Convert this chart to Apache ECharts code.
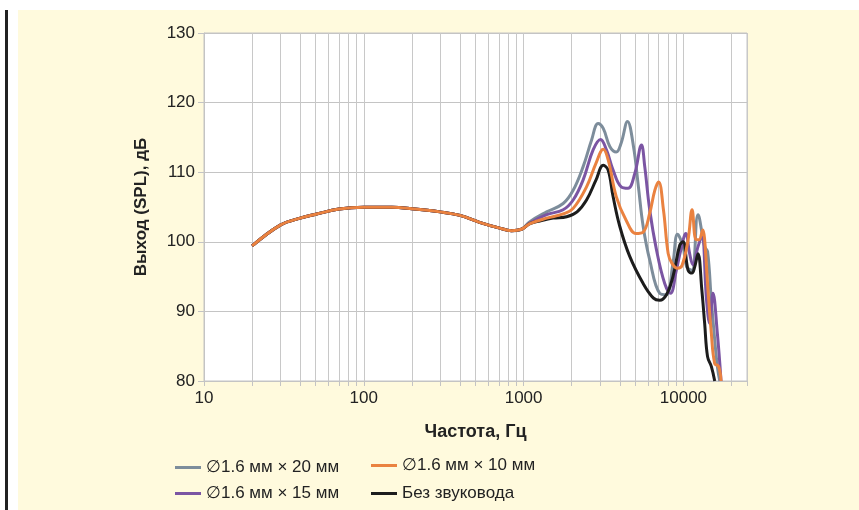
<!DOCTYPE html>
<html><head><meta charset="utf-8">
<script src="https://cdn.jsdelivr.net/npm/echarts@6/dist/echarts.min.js"></script>
<style>html,body{margin:0;padding:0;background:#fff}#c{width:859px;height:510px}</style>
</head><body><div id="c"></div>
<script>
// Shared low-frequency part (all curves coincide)
const freqCommon = [20, 30, 40, 50, 70, 100, 150, 200, 300, 400, 530, 700, 840, 970];
const splCommon  = [99.4, 102.4, 103.4, 103.95, 104.7, 104.95, 104.95, 104.75, 104.3, 103.8, 102.8, 102.0, 101.6, 101.8];

const freq20 = [1095, 1393, 1768, 2042, 2358, 2661, 2926, 3150, 3462, 3800, 4080, 4467, 4870, 5230, 5600, 6152, 7112, 7830, 8600, 9190, 9950, 10480, 11300, 12340, 13580, 14160, 14950, 15700, 16300, 16870];
const spl20  = [102.9, 104.3, 105.5, 107.4, 110.8, 114.6, 117.0, 116.3, 113.7, 112.9, 114.2, 117.3, 113.7, 107.9, 102.2, 97.4, 92.6, 92.4, 96.9, 101.1, 99.3, 96.4, 95.9, 103.9, 99.3, 98.6, 91.6, 85.9, 82.1, 80.0];

const freq15 = [1095, 1393, 1768, 2042, 2358, 2722, 3030, 3300, 3630, 4080, 4500, 4960, 5465, 5730, 6152, 6790, 7638, 8300, 9030, 9630, 10350, 10940, 11460, 12340, 13040, 13960, 14590, 15310, 16300, 17200];
const spl15  = [102.7, 103.9, 104.6, 106.0, 108.9, 113.2, 114.7, 113.2, 110.3, 107.9, 107.7, 109.8, 113.9, 110.8, 104.6, 98.8, 94.0, 92.6, 95.9, 98.8, 101.2, 98.3, 96.7, 99.3, 100.8, 91.6, 88.3, 92.6, 86.9, 80.0];

const freq10 = [1095, 1393, 1768, 2042, 2476, 2840, 3150, 3380, 3800, 4380, 5040, 5600, 6152, 6622, 7000, 7500, 8030, 8480, 9190, 9800, 10700, 11330, 12000, 12520, 13230, 13580, 14160, 14950, 15700, 16600, 17200];
const spl10  = [102.6, 103.4, 104.0, 104.8, 107.9, 111.3, 113.3, 111.8, 106.5, 103.1, 101.2, 101.4, 104.1, 107.4, 108.6, 104.6, 98.3, 96.9, 96.2, 96.6, 100.3, 104.6, 100.3, 100.3, 101.7, 100.3, 94.0, 86.9, 82.5, 82.1, 80.0];

const freq0 = [1095, 1265, 1530, 1860, 2160, 2476, 2840, 3150, 3380, 3630, 4000, 4615, 5600, 6500, 7112, 7830, 8600, 9484, 9950, 10700, 11300, 11770, 12340, 13040, 13580, 14160, 14950, 15700];
const spl0  = [102.6, 103.0, 103.4, 103.6, 104.3, 106.0, 108.9, 111.0, 110.3, 106.5, 102.2, 97.9, 94.0, 91.9, 91.6, 92.4, 95.0, 99.5, 100.0, 95.9, 95.5, 96.4, 98.3, 93.1, 88.3, 83.5, 82.1, 80.0];

const seriesNames = ['\u22051.6 мм \u00d7 20 мм', '\u22051.6 мм \u00d7 15 мм', '\u22051.6 мм \u00d7 10 мм', 'Без звуковода'];
const seriesColors = ['#7d8d9b', '#7b55a3', '#ea8240', '#1c1c1c'];

const xLabelTicks = [10, 100, 1000, 10000];
const xMinorTicks = [10,20,30,40,50,60,70,80,90,100,200,300,400,500,600,700,800,900,1000,2000,3000,4000,5000,6000,7000,8000,9000,10000,20000,25000];
const yTicks = [80, 90, 100, 110, 120, 130];

function pairs(f, v) {
  const a = freqCommon.map((x, i) => [x, splCommon[i]]);
  return a.concat(f.map((x, i) => [x, v[i]]));
}
const allData = [pairs(freq20, spl20), pairs(freq15, spl15), pairs(freq10, spl10), pairs(freq0, spl0)];

const font = '"Liberation Sans Narrow", "Arial Narrow", "Liberation Sans", sans-serif';
const chart = echarts.init(document.getElementById('c'), null, {renderer: 'canvas'});

const order = [0, 1, 3, 2];
const series = order.map(i => ({
  name: seriesNames[i], type: 'line', data: allData[i], showSymbol: false, smooth: 0.4,
  clip: true, lineStyle: {width: 3, color: seriesColors[i]}, itemStyle: {color: seriesColors[i]},
  emphasis: {disabled: true}, z: 3
}));

chart.setOption({
  animation: false,
  backgroundColor: '#ffffff',
  graphic: [
    {type: 'rect', left: 18, top: 10, shape: {width: 841, height: 500}, style: {fill: '#fffadd'}, z: -10, silent: true},
    {type: 'rect', left: 5, top: 10, shape: {width: 3, height: 500}, style: {fill: '#222'}, z: -10, silent: true}
  ],
  grid: {left: 204, top: 33, right: 112, bottom: 129, show: true, backgroundColor: '#ffffff', borderColor: '#c4c4c4', borderWidth: 1},
  legend: [
    {orient: 'vertical', left: 170, top: 454, itemGap: 9, itemWidth: 26, itemHeight: 3, icon: 'rect',
     data: [seriesNames[0], seriesNames[1]], textStyle: {fontFamily: font, fontSize: 17, color: '#222'}},
    {orient: 'vertical', left: 366, top: 452, itemGap: 11, itemWidth: 26, itemHeight: 3, icon: 'rect',
     data: [seriesNames[2], seriesNames[3]], textStyle: {fontFamily: font, fontSize: 17, color: '#222'}}
  ],
  xAxis: {
    type: 'log', logBase: 10, min: 10, max: 25000,
    name: 'Частота, Гц', nameLocation: 'middle', nameGap: 42,
    nameTextStyle: {fontFamily: font, fontSize: 18, fontWeight: 'bold', color: '#222'},
    axisLine: {show: true, lineStyle: {color: '#c4c4c4'}},
    axisTick: {show: true, length: 5, lineStyle: {color: '#c4c4c4'}, customValues: xMinorTicks},
    axisLabel: {fontFamily: font, fontSize: 17, color: '#222', margin: 9, customValues: xLabelTicks,
                formatter: v => String(Math.round(v))},
    splitLine: {show: true, lineStyle: {color: '#c8c8c8', width: 1}}
  },
  yAxis: {
    type: 'value', min: 80, max: 130, interval: 10,
    name: 'Выход (SPL), дБ', nameLocation: 'middle', nameGap: 54, nameRotate: 90,
    nameTextStyle: {fontFamily: font, fontSize: 17, fontWeight: 'bold', color: '#222'},
    axisLine: {show: true, lineStyle: {color: '#c4c4c4'}},
    axisTick: {show: true, length: 6, lineStyle: {color: '#c4c4c4'}},
    axisLabel: {fontFamily: font, fontSize: 17, color: '#222', margin: 9},
    splitLine: {show: true, lineStyle: {color: '#c4c4c4', width: 1}}
  },
  series: series
});
</script></body></html>
